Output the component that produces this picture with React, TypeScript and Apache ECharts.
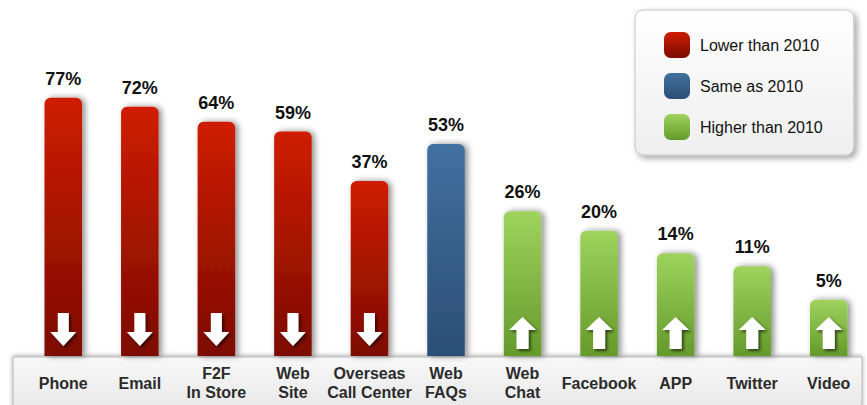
import React, { useEffect, useRef } from "react";
import * as echarts from "echarts";

// ---- data ----
const categories = [
  "Phone",
  "Email",
  "F2F\nIn Store",
  "Web\nSite",
  "Overseas\nCall Center",
  "Web\nFAQs",
  "Web\nChat",
  "Facebook",
  "APP",
  "Twitter",
  "Video",
];
const shares = [77, 72, 64, 59, 37, 53, 26, 20, 14, 11, 5];
const trend = ["lower", "lower", "lower", "lower", "lower", "same", "higher", "higher", "higher", "higher", "higher"];
const groupKeys = ["lower", "same", "higher"];
const groupNames = ["Lower than 2010", "Same as 2010", "Higher than 2010"];

// The original draws its bars on a square-root scale
const Y_MIN = 0.41;
const Y_MAX = 10.65;

const FONT = '"Liberation Sans", Arial, Helvetica, sans-serif';

const palette: Record<string, [string, string]> = {
  lower: ["#cf1d00", "#7c0b04"],
  same: ["#41709e", "#2b4e77"],
  higher: ["#9fd35e", "#659a2b"],
};

function grad(c: [string, string]) {
  return new echarts.graphic.LinearGradient(0, 0, 0, 1, [
    { offset: 0, color: c[0] },
    { offset: 1, color: c[1] },
  ]);
}

function makeRender(kind: string) {
  const fill = grad(palette[kind]);
  return (params: any, api: any) => {
    const idx = api.value(0);
    const v = api.value(1);
    const top = api.coord([idx, Math.sqrt(v)]);
    const base = api.coord([idx, Y_MIN]);
    const cx = top[0];
    const t = top[1];
    const b = base[1];
    const w = api.size([1, 0])[0] * 0.49;
    const children: any[] = [
      {
        type: "rect",
        shape: { x: cx - w / 2, y: t, width: w, height: b - t, r: [6, 6, 0, 0] },
        style: {
          fill,
          shadowBlur: 6,
          shadowColor: "rgba(0,0,0,0.45)",
          shadowOffsetX: 3,
          shadowOffsetY: 0,
        },
      },
      {
        type: "text",
        style: {
          text: v + "%",
          x: cx,
          y: t - 19,
          align: "center",
          verticalAlign: "middle",
          fontSize: 18,
          fontWeight: "bold",
          fontFamily: FONT,
          fill: "#111",
        },
      },
    ];
    const arrowStyle = {
      fill: "#ffffff",
      shadowBlur: 3,
      shadowColor: "rgba(0,0,0,0.6)",
      shadowOffsetX: 2,
      shadowOffsetY: 2,
    };
    if (kind === "lower") {
      children.push({
        type: "polygon",
        shape: {
          points: [
            [cx - 5.5, b - 43],
            [cx + 5.5, b - 43],
            [cx + 5.5, b - 24],
            [cx + 13, b - 24],
            [cx, b - 10],
            [cx - 13, b - 24],
            [cx - 5.5, b - 24],
          ],
        },
        style: arrowStyle,
      });
    } else if (kind === "higher") {
      children.push({
        type: "polygon",
        shape: {
          points: [
            [cx, b - 39],
            [cx + 13.5, b - 26],
            [cx + 6, b - 26],
            [cx + 6, b - 7],
            [cx - 6, b - 7],
            [cx - 6, b - 26],
            [cx - 13.5, b - 26],
          ],
        },
        style: arrowStyle,
      });
    }
    return { type: "group", children };
  };
}

export default function App() {
  const ref = useRef<HTMLDivElement>(null);
  useEffect(() => {
    if (!ref.current) return;
    const chart = echarts.init(ref.current, undefined, { renderer: "svg" });
    const series = groupKeys.map((key, gi) => ({
      type: "custom",
      name: groupNames[gi],
      renderItem: makeRender(key),
      itemStyle: { color: grad(palette[key]) },
      encode: { x: 0, y: 1 },
      data: shares
        .map((v, i) => (trend[i] === key ? [i, v] : null))
        .filter((d) => d !== null),
      z: 3,
    }));
    chart.setOption({
      animation: false,
      backgroundColor: "#ffffff",
      grid: { left: 25, width: 850, top: 40, bottom: 49 },
      xAxis: {
        type: "category",
        data: categories,
        axisLine: { show: false },
        axisTick: { show: false },
        splitLine: { show: false },
        axisLabel: {
          interval: 0,
          margin: 27,
          verticalAlign: "middle",
          fontSize: 16,
          lineHeight: 19,
          fontWeight: "bold",
          fontFamily: FONT,
          color: "#2b2b2b",
        },
      },
      yAxis: { type: "value", min: Y_MIN, max: Y_MAX, show: false },
      legend: {
        orient: "vertical",
        left: 635,
        top: 10,
        padding: [22, 31, 15, 29],
        itemWidth: 26,
        itemHeight: 26,
        itemGap: 15,
        icon: "roundRect",
        data: groupNames,
        backgroundColor: new echarts.graphic.LinearGradient(0, 0, 0, 1, [
          { offset: 0, color: "#ffffff" },
          { offset: 1, color: "#eeeeee" },
        ]),
        borderColor: "#c4c4c4",
        borderWidth: 1,
        borderRadius: 8,
        shadowBlur: 6,
        shadowColor: "rgba(0,0,0,0.35)",
        shadowOffsetX: 3,
        shadowOffsetY: 3,
        textStyle: {
          fontSize: 16,
          color: "#111111",
          fontFamily: FONT,
          padding: [0, 0, 0, 5],
        },
      },
      graphic: [
        {
          type: "rect",
          z: -1,
          silent: true,
          shape: { x: 13, y: 357, width: 849, height: 60 },
          style: {
            fill: new echarts.graphic.LinearGradient(0, 0, 0, 1, [
              { offset: 0, color: "#f8f8f8" },
              { offset: 1, color: "#e6e6e6" },
            ]),
            stroke: "#b8b8b8",
            lineWidth: 1,
            shadowBlur: 4,
            shadowColor: "rgba(0,0,0,0.35)",
            shadowOffsetY: -1,
          },
        },
      ],
      series,
    });
    return () => chart.dispose();
  }, []);
  return (
    <div
      ref={ref}
      style={{ position: "fixed", left: 0, top: 0, width: 867, height: 405 }}
    />
  );
}
